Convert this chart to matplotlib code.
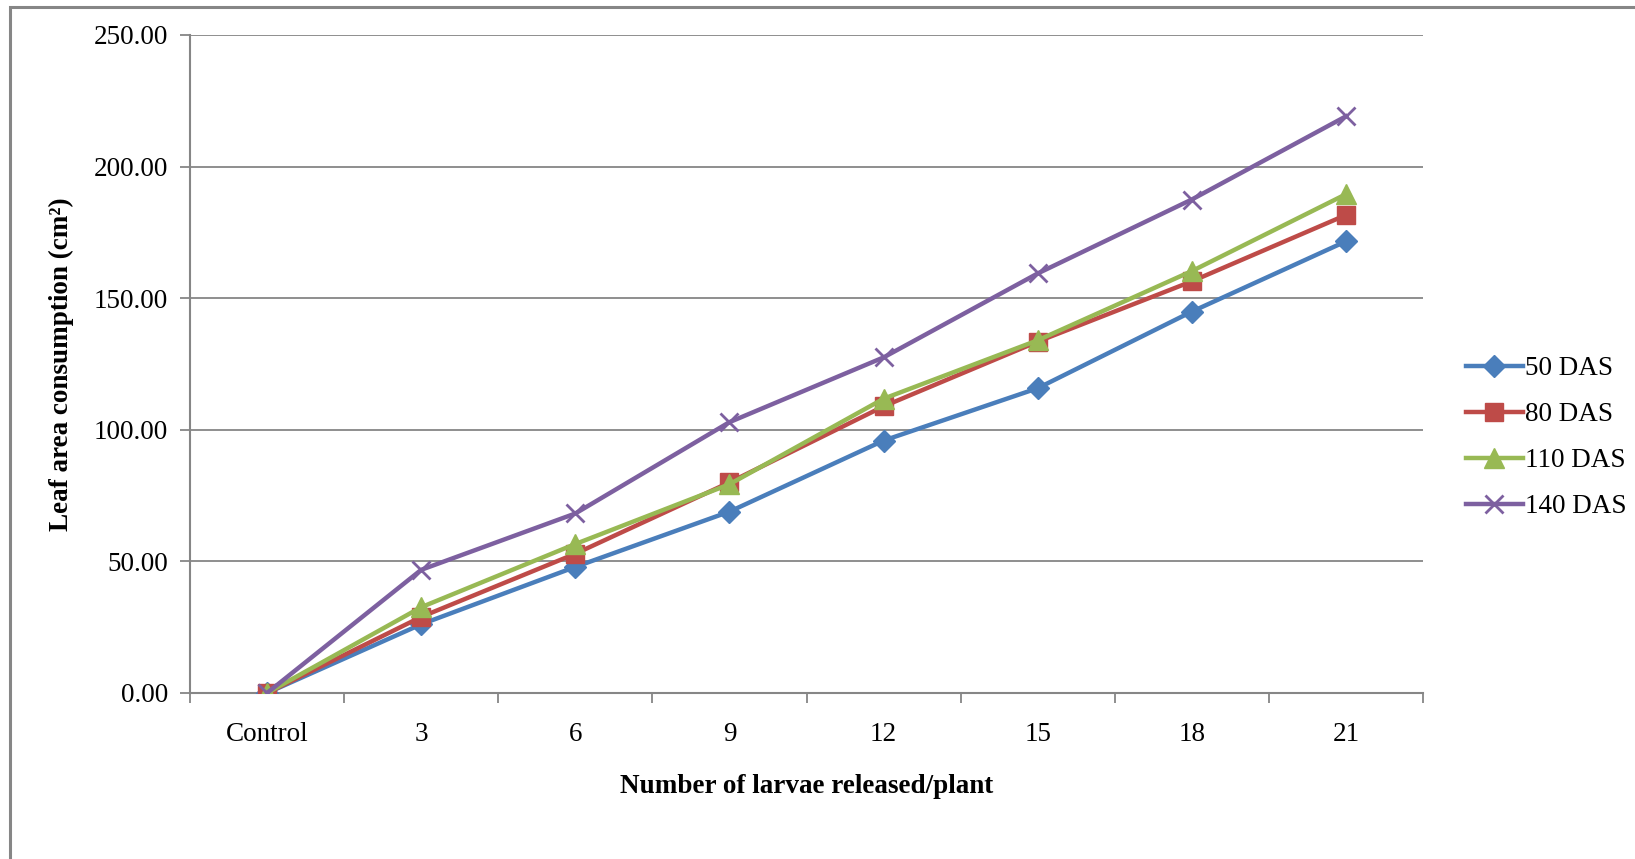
import matplotlib
matplotlib.use("Agg")
import matplotlib.pyplot as plt
from matplotlib.patches import Rectangle

# Leaf area consumption by larvae at different crop ages
categories = ["Control", "3", "6", "9", "12", "15", "18", "21"]
das_50 = [0.0, 26.1, 47.9, 68.9, 95.9, 115.8, 144.9, 171.6]
das_80 = [0.0, 28.9, 52.9, 80.0, 108.9, 133.5, 156.4, 181.6]
das_110 = [0.0, 32.6, 56.6, 79.3, 111.8, 134.0, 160.3, 189.5]
das_140 = [0.0, 46.8, 68.2, 102.9, 127.5, 159.4, 187.5, 219.1]
series_labels = ["50 DAS", "80 DAS", "110 DAS", "140 DAS"]
y_ticks = [0, 50, 100, 150, 200, 250]

GRID = "#868686"

plt.rcParams["font.family"] = ["Liberation Serif", "DejaVu Serif"]

fig = plt.figure(figsize=(16.35, 8.59), dpi=100)
ax = fig.add_axes([190 / 1635, 1 - 693 / 859, (1423 - 190) / 1635, (693 - 35) / 859])

# outer chart border (only left/top visible in the crop)
fig.patches.append(Rectangle((10 / 1635, -0.1), 1.2, 1 - 7 / 859 + 0.1,
                             transform=fig.transFigure, fill=False,
                             edgecolor=GRID, linewidth=2.2, zorder=0))

x = list(range(len(categories)))
styles = [
    (das_50, "#4A7EBB", dict(marker="D", markersize=11)),
    (das_80, "#BE4B48", dict(marker="s", markersize=12.5)),
    (das_110, "#98B954", dict(marker="^", markersize=14)),
    (das_140, "#7D60A0", dict(marker="x", markersize=13, markeredgewidth=2)),
]
for (vals, color, mk), label in zip(styles, series_labels):
    ax.plot(x, vals, color=color, linewidth=3.2, label=label,
            markerfacecolor=color, markeredgecolor=color, zorder=3, **mk)

ax.set_xlim(-0.5, len(categories) - 0.5)
ax.set_ylim(0, 250)
ax.set_yticks(y_ticks)
ax.set_yticklabels([f"{v:.2f}" for v in y_ticks], fontsize=19.5)
ax.set_xticks(x)
ax.set_xticklabels(categories, fontsize=19.5)
ax.set_xticks([i - 0.5 for i in range(len(categories) + 1)], minor=True)
ax.tick_params(axis="x", which="major", length=0, pad=21)
ax.tick_params(axis="x", which="minor", length=7, width=1.3, color=GRID, direction="out")
ax.tick_params(axis="y", length=7, width=1.3, color=GRID, direction="out", pad=9)

ax.grid(axis="y", color=GRID, linewidth=1.3)
ax.set_axisbelow(True)
for side in ("top", "right"):
    ax.spines[side].set_visible(False)
for side in ("left", "bottom"):
    ax.spines[side].set_color(GRID)
    ax.spines[side].set_linewidth(1.5)

ax.set_xlabel("Number of larvae released/plant", fontsize=19.5, fontweight="bold", labelpad=19)
ax.set_ylabel("Leaf area consumption (cm\u00b2)", fontsize=19.5, fontweight="bold", labelpad=14)

ax.legend(loc="center left", bbox_to_anchor=(1.026, 0.388), frameon=False, fontsize=19.5,
          handlelength=2.1, handletextpad=0.1, labelspacing=0.78, borderaxespad=0)

fig.savefig("out.png", dpi=100)
